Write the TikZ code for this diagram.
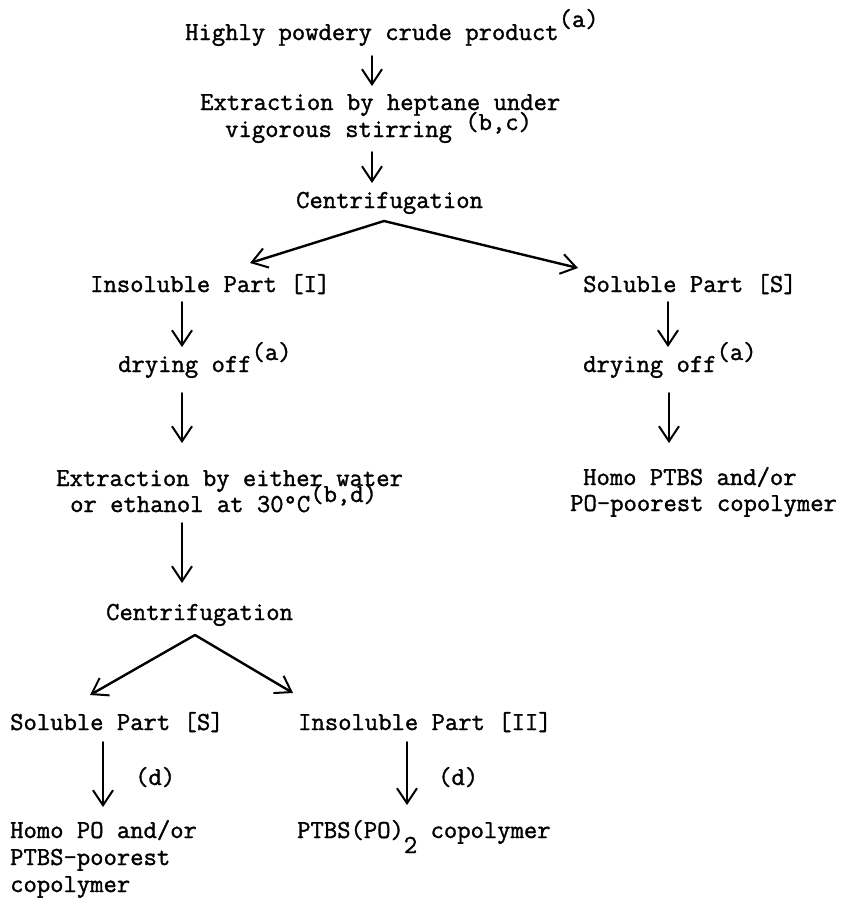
\documentclass[tikz,border=0pt]{standalone}
\usepackage{fontspec}
\usetikzlibrary{arrows.meta}
% a slightly heavier typewriter face
\newfontfamily\typefont{Latin Modern Mono}[FakeBold=1.3]
% raised and lowered marks, typed at full size as on a typewriter
\newcommand\supmark[2][12pt]{\raisebox{#1}{#2}}
\newcommand\submark[1]{\raisebox{-15pt}{#1}}
\begin{document}
\begin{tikzpicture}[x=1pt,y=-1pt,
  lbl/.style={anchor=base west, inner sep=0pt,
    font=\typefont\fontsize{25.9pt}{27pt}\selectfont},
  flow/.style={line width=2pt, line cap=round,
    -{Straight Barb[length=15pt,width=20pt,line width=2pt]}},
  fork/.style={flow, line width=2.4pt}]
\useasboundingbox[fill=white] (0,0) rectangle (845,898);

% --- text blocks ---
\node[lbl] (crude) at (185,40) {Highly powdery crude product\supmark[13pt]{(a)}};
\node[lbl] (extA)  at (200,110) {Extraction by heptane under};
\node[lbl] (extB)  at (225,137) {vigorous stirring \supmark[7pt]{(b,c)}};
\node[lbl] (cenA)  at (296,208) {Centrifugation};
\node[lbl] (insI)  at (90,292)  {Insoluble Part [I]};
\node[lbl] (solS)  at (583,292) {Soluble Part [S]};
\node[lbl] (dryL)  at (118,372) {drying off\supmark{(a)}};
\node[lbl] (dryR)  at (583,372) {drying off\supmark{(a)}};
\node[lbl] (wetA)  at (56,486)  {Extraction by either water};
\node[lbl] (wetB)  at (70,512)  {or ethanol at 30°C\supmark[10pt]{(b,d)}};
\node[lbl] (hptA)  at (583,485) {Homo PTBS and/or};
\node[lbl] (hptB)  at (570,511) {PO-poorest copolymer};
\node[lbl] (cenB)  at (106,620) {Centrifugation};
\node[lbl] (solT)  at (10,730)  {Soluble Part [S]};
\node[lbl] (insII) at (298,730) {Insoluble Part [II]};
\node[lbl] (dL)    at (135,785) {(d)};
\node[lbl] (dR)    at (438,785) {(d)};
\node[lbl] (hpoA)  at (10,838)  {Homo PO and/or};
\node[lbl] (hpoB)  at (10,865)  {PTBS-poorest};
\node[lbl] (hpoC)  at (10,892)  {copolymer};
\node[lbl] (ptbs)  at (297,838) {PTBS(PO)\submark{2} copolymer};

% --- arrow end points ---
\coordinate (a1s) at (372,56);  \coordinate (a1e) at (372,86);
\coordinate (a2s) at (372,152); \coordinate (a2e) at (372,183);
\coordinate (brA) at (384,221);
\coordinate (brL) at (250,263); \coordinate (brR) at (578,268);
\coordinate (l1s) at (182,302); \coordinate (l1e) at (182,347);
\coordinate (r1s) at (668,302); \coordinate (r1e) at (668,347);
\coordinate (l2s) at (182,393); \coordinate (l2e) at (182,443);
\coordinate (r2s) at (669,393); \coordinate (r2e) at (669,443);
\coordinate (l3s) at (182,523); \coordinate (l3e) at (182,583);
\coordinate (brB) at (195,635);
\coordinate (bbL) at (90,695);  \coordinate (bbR) at (293,693);
\coordinate (s4s) at (103,742); \coordinate (s4e) at (103,807);
\coordinate (i4s) at (407,742); \coordinate (i4e) at (407,805);

% --- arrows ---
\draw[flow] (a1s) -- (a1e);
\draw[flow] (a2s) -- (a2e);
\draw[fork] (brA) -- (brL);
\draw[fork] (brA) -- (brR);
\draw[flow] (l1s) -- (l1e);
\draw[flow] (r1s) -- (r1e);
\draw[flow] (l2s) -- (l2e);
\draw[flow] (r2s) -- (r2e);
\draw[flow] (l3s) -- (l3e);
\draw[fork] (brB) -- (bbL);
\draw[fork] (brB) -- (bbR);
\draw[flow] (s4s) -- (s4e);
\draw[flow] (i4s) -- (i4e);
\end{tikzpicture}
\end{document}
